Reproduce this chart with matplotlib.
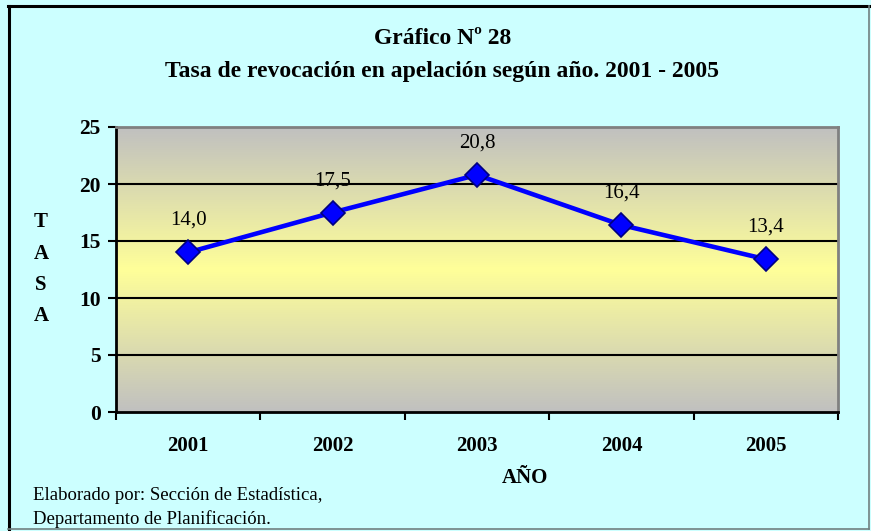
import matplotlib
matplotlib.use("Agg")
import matplotlib.pyplot as plt
import numpy as np
from matplotlib.colors import LinearSegmentedColormap
from matplotlib.lines import Line2D

years = ["2001", "2002", "2003", "2004", "2005"]
rates = [14.0, 17.5, 20.8, 16.4, 13.4]
rate_labels = ["14,0", "17,5", "20,8", "16,4", "13,4"]
yticks = [0, 5, 10, 15, 20, 25]

plt.rcParams['font.family'] = ['Liberation Serif', 'DejaVu Serif']

W, H = 871, 531
fig = plt.figure(figsize=(W/100, H/100), dpi=100)
fig.patch.set_facecolor('#CCFFFF')

def fx(px): return px / W
def fy(py): return 1 - py / H

# outer frame
fig.add_artist(Line2D([fx(9), fx(9)], [fy(6), fy(529)], color='black', lw=2.2, transform=fig.transFigure))
fig.add_artist(Line2D([fx(8), fx(869)], [fy(6), fy(6)], color='black', lw=2.2, transform=fig.transFigure))
fig.add_artist(Line2D([fx(869), fx(869)], [fy(6), fy(529)], color='#708080', lw=1.2, transform=fig.transFigure))
fig.add_artist(Line2D([fx(8), fx(869)], [fy(529), fy(529)], color='#708080', lw=1.2, transform=fig.transFigure))

left, right, top, bottom = 116, 838, 127, 412
ax = fig.add_axes([fx(left), fy(bottom), fx(right - left), fy(top) - fy(bottom)])

n = len(years)
ax.set_xlim(-0.5, n - 0.5)
ax.set_ylim(0, 25)

# gradient background
cmap = LinearSegmentedColormap.from_list('g', ['#C0C0C0', '#FFFF99', '#C0C0C0'])
grad = np.linspace(0, 1, 256).reshape(-1, 1)
ax.imshow(grad, extent=[-0.5, n - 0.5, 0, 25], aspect='auto', cmap=cmap, zorder=0, origin='lower')

for v in yticks[1:-1]:
    ax.axhline(v, color='black', lw=1.5, zorder=1)

ax.plot(range(n), rates, color='#0000FF', lw=3.3, zorder=3,
        marker='D', markersize=12.5, markerfacecolor='#0000FF', markeredgecolor='#000080', markeredgewidth=1.2)

for i, (v, lab) in enumerate(zip(rates, rate_labels)):
    ax.text(i, v + 2.8, lab, ha='center', va='center', fontsize=15, color='black', zorder=4)

ax.set_yticks(yticks)
ax.set_yticklabels([str(t) for t in yticks], fontsize=15.5, fontweight='bold')
ax.set_xticks(np.arange(-0.5, n, 1.0))
ax.set_xticklabels([])
ax.set_xticks(range(n), minor=True)
ax.set_xticklabels(years, minor=True, fontsize=15, fontweight='bold')
ax.tick_params(axis='x', which='minor', length=0, pad=17)
ax.tick_params(axis='x', which='major', direction='out', length=6, width=1.5)
ax.tick_params(axis='y', direction='out', length=6, width=1.5, pad=5)

for s in ['left', 'bottom']:
    ax.spines[s].set_color('black')
    ax.spines[s].set_linewidth(2)
for s in ['top', 'right']:
    ax.spines[s].set_color('#808080')
    ax.spines[s].set_linewidth(2)

fig.text(fx(443), fy(39), "Gráfico Nº 28", ha='center', va='center', fontsize=17, fontweight='bold')
fig.text(fx(442), fy(71), "Tasa de revocación en apelación según año. 2001 - 2005", ha='center', va='center',
         fontsize=17, fontweight='bold')

for ch, yy in zip("TASA", [222, 254, 285, 316]):
    fig.text(fx(41), fy(yy), ch, ha='center', va='center', fontsize=15, fontweight='bold')

fig.text(fx(525), fy(478), "AÑO", ha='center', va='center', fontsize=15, fontweight='bold')

fig.text(fx(33), fy(496), "Elaborado por: Sección de Estadística,", ha='left', va='center', fontsize=13.5)
fig.text(fx(33), fy(519), "Departamento de Planificación.", ha='left', va='center', fontsize=13.5)

fig.savefig("out.png", dpi=100, facecolor=fig.get_facecolor())
